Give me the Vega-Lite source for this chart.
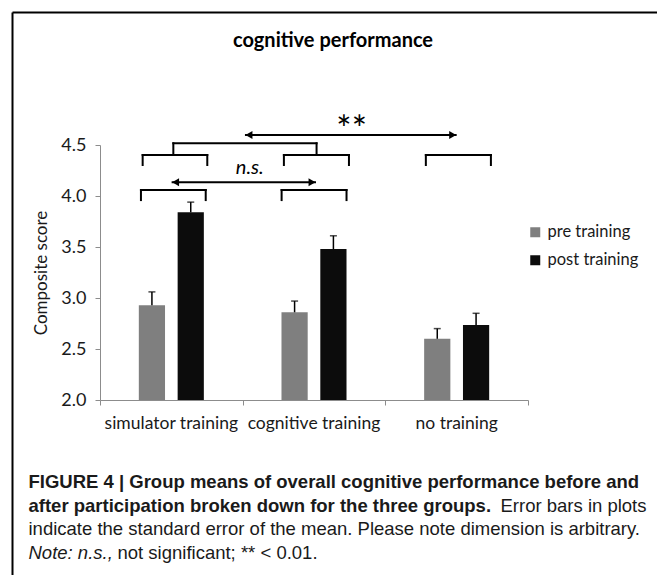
{
  "$schema": "https://vega.github.io/schema/vega-lite/v6.json",
  "width": 428,
  "height": 255,
  "autosize": {"type": "none"},
  "padding": {"left": 100, "top": 145, "right": 129, "bottom": 175},
  "background": "#ffffff",
  "title": {"text": "cognitive performance", "anchor": "middle", "frame": "group", "offset": -49, "dx": 19, "baseline": "middle", "font": "Lato", "fontSize": 20, "fontWeight": "bold", "color": "#000000"},
  "config": {"view": {"stroke": null}, "axis": {"grid": false}},
  "datasets": {
    "bars": [
      {"group": "simulator training", "phase": "pre training", "mean": 2.93, "upper": 3.06},
      {"group": "simulator training", "phase": "post training", "mean": 3.84, "upper": 3.94},
      {"group": "cognitive training", "phase": "pre training", "mean": 2.86, "upper": 2.97},
      {"group": "cognitive training", "phase": "post training", "mean": 3.48, "upper": 3.61},
      {"group": "no training", "phase": "pre training", "mean": 2.60, "upper": 2.70},
      {"group": "no training", "phase": "post training", "mean": 2.735, "upper": 2.85}
    ],
    "brackets": [
      {"from": 0.287, "to": 0.741, "top": 4.059, "bottom": 3.96},
      {"from": 1.273, "to": 1.728, "top": 4.059, "bottom": 3.96},
      {"from": 0.299, "to": 0.752, "top": 4.402, "bottom": 4.304},
      {"from": 1.289, "to": 1.745, "top": 4.402, "bottom": 4.304},
      {"from": 2.284, "to": 2.740, "top": 4.402, "bottom": 4.304},
      {"from": 0.514, "to": 1.518, "top": 4.517, "bottom": 4.402}
    ],
    "arrows": [
      {"from": 0.502, "to": 1.514, "y": 4.134},
      {"from": 1.016, "to": 2.50, "y": 4.598}
    ],
    "labels": [
      {"label": "n.s.", "x": 1.05, "y": 4.213},
      {"label": "**", "x": 1.764, "y": 4.527}
    ]
  },
  "layer": [
    {
      "data": {"name": "bars"},
      "mark": {"type": "bar"},
      "encoding": {
        "x": {"field": "group", "type": "nominal", "sort": ["simulator training", "cognitive training", "no training"], "scale": {"paddingInner": 0, "paddingOuter": 0},
          "axis": {"orient": "bottom", "domain": false, "ticks": false, "labelAngle": 0, "labelFont": "Lato", "labelFontSize": 17.5, "labelColor": "#1a1a1a", "labelPadding": 14, "grid": false,
            "title": ["FIGURE 4 | Group means of overall cognitive performance before and", "after participation broken down for the three groups."],
            "titleFont": "Liberation Sans", "titleFontSize": 18.5, "titleFontWeight": "bold", "titleColor": "#1a1a1a", "titleX": -72, "titleY": 87.6, "titleAlign": "left", "titleBaseline": "alphabetic", "titleLineHeight": 23.7, "titleAngle": 0}},
        "xOffset": {"field": "phase", "type": "nominal", "sort": ["pre training", "post training"], "scale": {"paddingInner": 0.325, "paddingOuter": 1.016}},
        "y": {"field": "mean", "type": "quantitative", "scale": {"domain": [2, 4.5], "nice": false, "zero": false},
          "axis": {"orient": "left", "values": [2, 2.5, 3, 3.5, 4, 4.5], "format": ".1f", "labelFont": "Lato", "labelFontSize": 18, "labelColor": "#1a1a1a", "labelPadding": 9, "tickSize": 5, "tickColor": "#8c8c8c", "domainColor": "#8c8c8c", "grid": false,
            "title": "Composite score", "titleFont": "Lato", "titleFontSize": 17, "titleFontWeight": "normal", "titleColor": "#1a1a1a", "titleX": -59, "titleY": 127.5, "titleAngle": 270, "titleAlign": "center", "titleBaseline": "middle"}},
        "y2": {"datum": 2},
        "color": {"field": "phase", "type": "nominal", "scale": {"domain": ["pre training", "post training"], "range": ["#7f7f7f", "#0c0c0c"]},
          "legend": {"orient": "none", "legendX": 427, "legendY": 79, "title": null, "symbolType": "square", "symbolSize": 100, "symbolStrokeWidth": 0, "labelFont": "Lato", "labelFontSize": 16.5, "labelColor": "#1a1a1a", "labelOffset": 4, "rowPadding": 11, "padding": 0}}
      }
    },
    {
      "data": {"name": "bars"},
      "mark": {"type": "rule", "color": "#000000", "strokeWidth": 1.5},
      "encoding": {
        "x": {"field": "group", "type": "nominal", "sort": ["simulator training", "cognitive training", "no training"], "scale": {"paddingInner": 0, "paddingOuter": 0}, "axis": null},
        "xOffset": {"field": "phase", "type": "nominal", "sort": ["pre training", "post training"], "scale": {"paddingInner": 0.325, "paddingOuter": 1.016}},
        "y": {"field": "mean", "type": "quantitative", "scale": {"domain": [2, 4.5], "nice": false, "zero": false}, "axis": null},
        "y2": {"field": "upper"}
      }
    },
    {
      "data": {"name": "bars"},
      "mark": {"type": "tick", "color": "#000000", "size": 7, "thickness": 1.5},
      "encoding": {
        "x": {"field": "group", "type": "nominal", "sort": ["simulator training", "cognitive training", "no training"], "scale": {"paddingInner": 0, "paddingOuter": 0}, "axis": null},
        "xOffset": {"field": "phase", "type": "nominal", "sort": ["pre training", "post training"], "scale": {"paddingInner": 0.325, "paddingOuter": 1.016}},
        "y": {"field": "upper", "type": "quantitative", "scale": {"domain": [2, 4.5], "nice": false, "zero": false}, "axis": null}
      }
    },
    {
      "data": {"name": "brackets"},
      "mark": {"type": "rule", "color": "#000000", "strokeWidth": 2, "strokeCap": "square"},
      "encoding": {
        "x": {"field": "from", "type": "quantitative", "scale": {"domain": [0, 3], "nice": false, "zero": false},
          "axis": {"orient": "bottom", "values": [0, 1, 2, 3], "labels": false, "tickSize": 5, "tickColor": "#8c8c8c", "domainColor": "#8c8c8c", "grid": false,
            "title": "Error bars in plots", "titleFont": "Liberation Sans", "titleFontSize": 18.5, "titleFontWeight": "normal", "titleColor": "#1a1a1a", "titleX": 546, "titleY": 111, "titleAlign": "right", "titleBaseline": "alphabetic", "titleAngle": 0}},
        "x2": {"field": "to"},
        "y": {"field": "top", "type": "quantitative", "scale": {"domain": [2, 4.5], "nice": false, "zero": false},
          "axis": {"orient": "right", "domain": false, "ticks": false, "labels": false, "grid": false,
            "title": "indicate the standard error of the mean. Please note dimension is arbitrary.", "titleFont": "Liberation Sans", "titleFontSize": 18.5, "titleFontWeight": "normal", "titleColor": "#1a1a1a", "titleX": -500, "titleY": 389.5, "titleAlign": "left", "titleBaseline": "alphabetic", "titleAngle": 0}}
      }
    },
    {
      "data": {"name": "brackets"},
      "mark": {"type": "rule", "color": "#000000", "strokeWidth": 2, "strokeCap": "square"},
      "encoding": {
        "x": {"field": "from", "type": "quantitative", "scale": {"domain": [0, 3], "nice": false, "zero": false}, "axis": null},
        "y": {"field": "bottom", "type": "quantitative", "scale": {"domain": [2, 4.5], "nice": false, "zero": false}, "axis": null},
        "y2": {"field": "top"}
      }
    },
    {
      "data": {"name": "brackets"},
      "mark": {"type": "rule", "color": "#000000", "strokeWidth": 2, "strokeCap": "square"},
      "encoding": {
        "x": {"field": "to", "type": "quantitative", "scale": {"domain": [0, 3], "nice": false, "zero": false}, "axis": null},
        "y": {"field": "bottom", "type": "quantitative", "scale": {"domain": [2, 4.5], "nice": false, "zero": false}, "axis": null},
        "y2": {"field": "top"}
      }
    },
    {
      "data": {"name": "arrows"},
      "mark": {"type": "rule", "color": "#000000", "strokeWidth": 2},
      "encoding": {
        "x": {"field": "from", "type": "quantitative", "scale": {"domain": [0, 3], "nice": false, "zero": false}, "axis": null},
        "x2": {"field": "to"},
        "y": {"field": "y", "type": "quantitative", "scale": {"domain": [2, 4.5], "nice": false, "zero": false}, "axis": null}
      }
    },
    {
      "data": {"name": "arrows"},
      "mark": {"type": "point", "shape": "triangle-left", "filled": true, "color": "#000000", "opacity": 1, "size": 64, "xOffset": 4},
      "encoding": {
        "x": {"field": "from", "type": "quantitative", "scale": {"domain": [0, 3], "nice": false, "zero": false}, "axis": null},
        "y": {"field": "y", "type": "quantitative", "scale": {"domain": [2, 4.5], "nice": false, "zero": false}, "axis": null}
      }
    },
    {
      "data": {"name": "arrows"},
      "mark": {"type": "point", "shape": "triangle-right", "filled": true, "color": "#000000", "opacity": 1, "size": 64, "xOffset": -4},
      "encoding": {
        "x": {"field": "to", "type": "quantitative", "scale": {"domain": [0, 3], "nice": false, "zero": false}, "axis": null},
        "y": {"field": "y", "type": "quantitative", "scale": {"domain": [2, 4.5], "nice": false, "zero": false}, "axis": null}
      }
    },
    {
      "data": {"name": "labels"},
      "transform": [{"filter": "datum.label === 'n.s.'"}],
      "mark": {"type": "text", "font": "Lato", "fontSize": 20, "fontStyle": "italic", "color": "#000000", "align": "center", "baseline": "alphabetic"},
      "encoding": {
        "x": {"field": "x", "type": "quantitative", "scale": {"domain": [-0.6168, 3.9042], "range": [-88, 557], "nice": false, "zero": false},
          "axis": {"orient": "top", "offset": 133, "domain": true, "domainColor": "#000000", "domainWidth": 2, "ticks": false, "labels": false, "grid": false,
            "title": "Note: n.s.,", "titleFont": "Liberation Sans", "titleFontSize": 18.5, "titleFontStyle": "italic", "titleFontWeight": "normal", "titleColor": "#1a1a1a", "titleX": -72, "titleY": 546, "titleAlign": "left", "titleBaseline": "alphabetic", "titleAngle": 0}},
        "y": {"field": "y", "type": "quantitative", "scale": {"domain": [0.2843, 5.8039], "range": [430, -133], "nice": false, "zero": false},
          "axis": {"orient": "left", "offset": 88, "domain": true, "domainColor": "#000000", "domainWidth": 2, "ticks": false, "labels": false, "grid": false,
            "title": "not significant; ** < 0.01.", "titleFont": "Liberation Sans", "titleFontSize": 18.5, "titleFontWeight": "normal", "titleColor": "#1a1a1a", "titleX": 105, "titleY": 413, "titleAlign": "left", "titleBaseline": "alphabetic", "titleAngle": 0}},
        "text": {"field": "label"}
      }
    },
    {
      "data": {"name": "labels"},
      "transform": [{"filter": "datum.label === '**'"}],
      "mark": {"type": "text", "font": "Lato", "fontSize": 36, "color": "#000000", "align": "center", "baseline": "alphabetic"},
      "encoding": {
        "x": {"field": "x", "type": "quantitative", "scale": {"domain": [-0.6168, 3.9042], "range": [-88, 557], "nice": false, "zero": false}, "axis": null},
        "y": {"field": "y", "type": "quantitative", "scale": {"domain": [0.2843, 5.8039], "range": [430, -133], "nice": false, "zero": false}, "axis": null},
        "text": {"field": "label"}
      }
    }
  ],
  "resolve": {"scale": {"x": "independent", "y": "independent"}}
}
